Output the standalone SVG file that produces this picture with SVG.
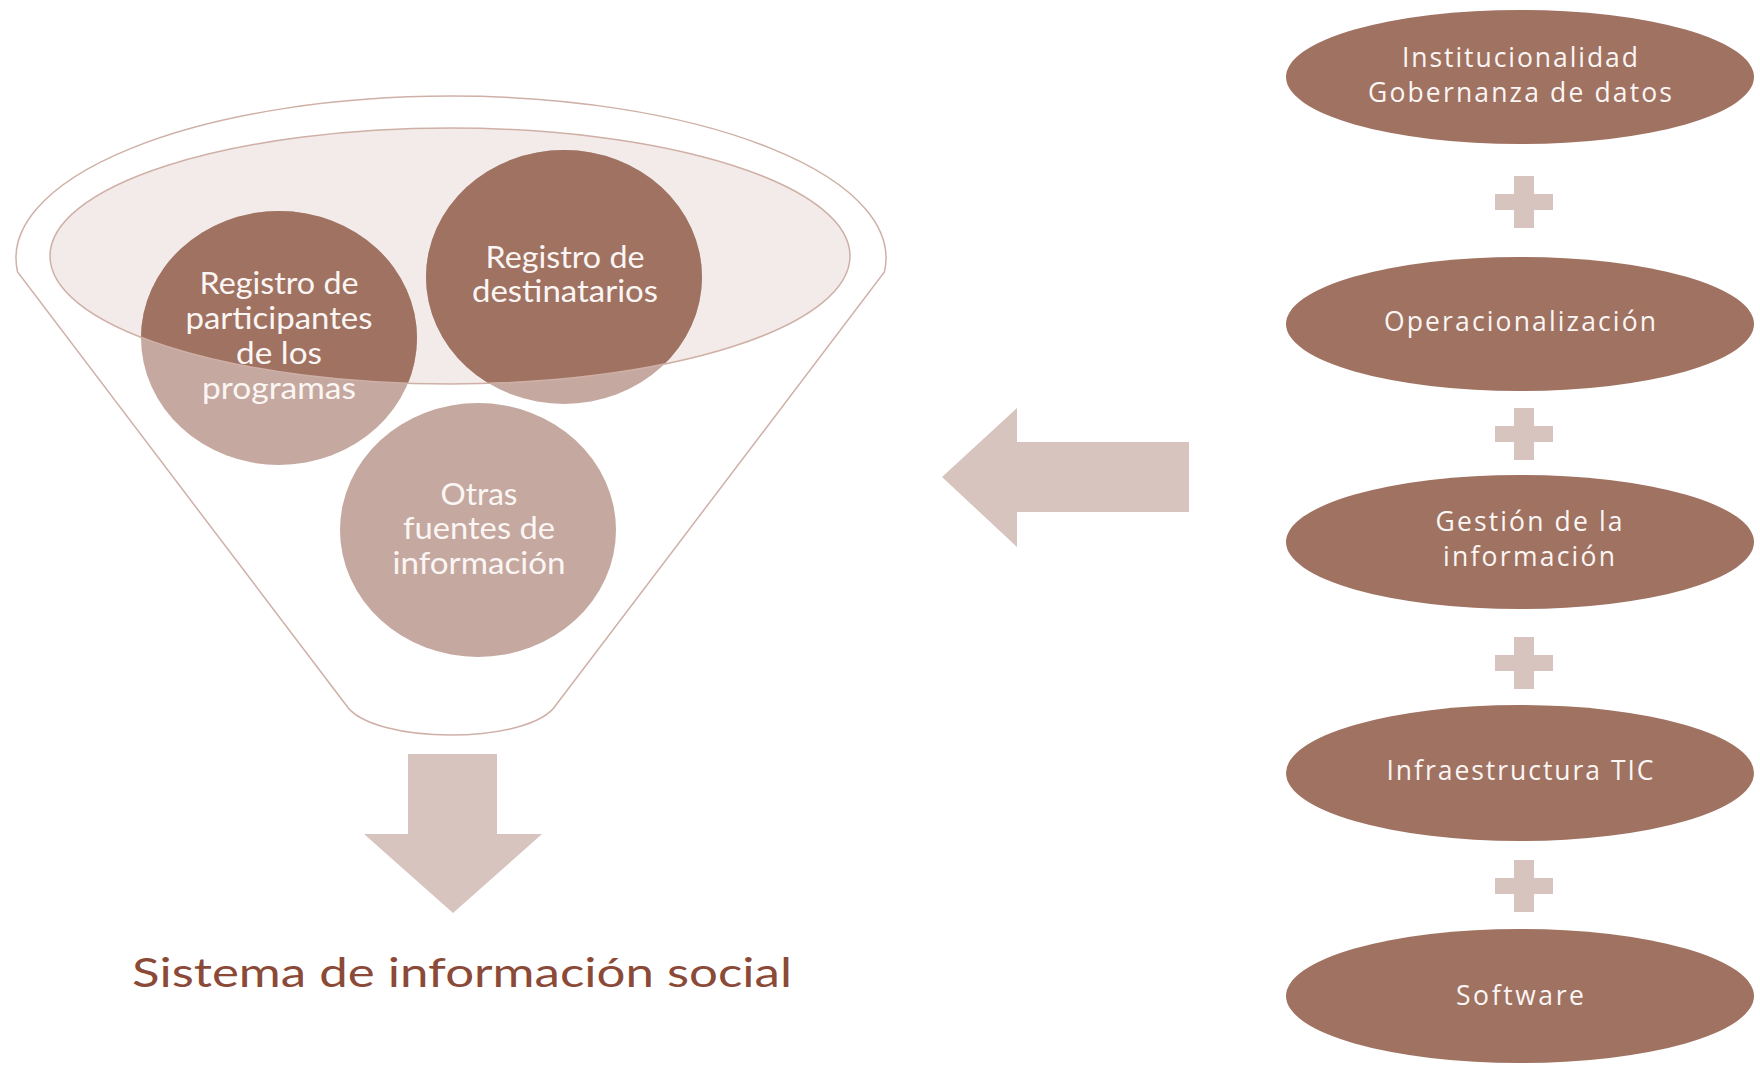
<svg xmlns="http://www.w3.org/2000/svg" width="1760" height="1065" viewBox="0 0 1760 1065">
<style>
.dark{fill:#a07262}
.light{fill:#c5a89f}
.pale{fill:#d8c4be}
.ctext{font-family:Lato,"Open Sans",sans-serif;font-size:30px;fill:#fbf6f4;text-anchor:middle}
.etext{font-family:"Open Sans",sans-serif;font-size:26.5px;fill:#fbf6f4;text-anchor:middle}
.title{font-family:Lato,"Open Sans",sans-serif;font-size:41px;fill:#8b4a38;text-anchor:middle}
.outline{fill:none;stroke:#cfb0a7;stroke-width:1.5}
</style>
<defs>
<clipPath id="rim"><ellipse cx="450" cy="256" rx="400" ry="128"/></clipPath>
<path id="plus" d="M-10,-26 H10 V-8 H29 V8 H10 V26 H-10 V8 H-29 V-8 H-10 Z"/>
</defs>

<g id="funnel">
<path class="outline" d="M17.6,272 A435,162 0 1 1 884.4,272 L556,705 C530,745 372,745 346,705 Z" fill="#ffffff"/>
<ellipse cx="450" cy="256" rx="400" ry="128" fill="#f3ebe9"/>
</g>

<g id="node-participantes">
<ellipse class="light" cx="279" cy="338" rx="138" ry="127"/>
<ellipse class="dark" cx="279" cy="338" rx="138" ry="127" clip-path="url(#rim)"/>
</g>
<g id="node-destinatarios">
<ellipse class="light" cx="564" cy="277" rx="138" ry="127"/>
<ellipse class="dark" cx="564" cy="277" rx="138" ry="127" clip-path="url(#rim)"/>
</g>
<g id="node-otras">
<ellipse class="light" cx="478" cy="530" rx="138" ry="127"/>
</g>

<ellipse id="rim-line" class="outline" cx="450" cy="256" rx="400" ry="128"/>

<g id="labels-left">
<text class="ctext" x="279" y="294" textLength="159" lengthAdjust="spacingAndGlyphs">Registro de</text>
<text class="ctext" x="279" y="329" textLength="187" lengthAdjust="spacingAndGlyphs">participantes</text>
<text class="ctext" x="279" y="364" textLength="86" lengthAdjust="spacingAndGlyphs">de los</text>
<text class="ctext" x="279" y="399" textLength="154" lengthAdjust="spacingAndGlyphs">programas</text>
<text class="ctext" x="565" y="268" textLength="159" lengthAdjust="spacingAndGlyphs">Registro de</text>
<text class="ctext" x="565" y="302" textLength="186" lengthAdjust="spacingAndGlyphs">destinatarios</text>
<text class="ctext" x="479" y="505" textLength="77" lengthAdjust="spacingAndGlyphs">Otras</text>
<text class="ctext" x="479" y="539" textLength="152" lengthAdjust="spacingAndGlyphs">fuentes de</text>
<text class="ctext" x="479" y="574" textLength="173" lengthAdjust="spacingAndGlyphs">información</text>
</g>

<g id="connectors">
<polygon class="pale" points="942,477 1017,408 1017,442 1189,442 1189,512 1017,512 1017,547"/>
<polygon class="pale" points="408,754 497,754 497,834 542,834 453,913 364,834 408,834"/>
<use href="#plus" class="pale" x="1524" y="202"/>
<use href="#plus" class="pale" x="1524" y="434"/>
<use href="#plus" class="pale" x="1524" y="663"/>
<use href="#plus" class="pale" x="1524" y="886"/>
</g>

<text id="title" class="title" x="462" y="987" textLength="660" lengthAdjust="spacingAndGlyphs">Sistema de información social</text>

<g id="node-institucionalidad">
<ellipse class="dark" cx="1520" cy="77" rx="234" ry="67"/>
<text class="etext" x="1520" y="67" textLength="236" lengthAdjust="spacing">Institucionalidad</text>
<text class="etext" x="1520" y="102" textLength="304" lengthAdjust="spacing">Gobernanza de datos</text>
</g>
<g id="node-operacionalizacion">
<ellipse class="dark" cx="1520" cy="324" rx="234" ry="67"/>
<text class="etext" x="1520" y="331" textLength="272" lengthAdjust="spacing">Operacionalización</text>
</g>
<g id="node-gestion">
<ellipse class="dark" cx="1520" cy="542" rx="234" ry="67"/>
<text class="etext" x="1529" y="531" textLength="187" lengthAdjust="spacing">Gestión de la</text>
<text class="etext" x="1529" y="566" textLength="172" lengthAdjust="spacing">información</text>
</g>
<g id="node-infraestructura">
<ellipse class="dark" cx="1520" cy="773" rx="234" ry="68"/>
<text class="etext" x="1520" y="780" textLength="267" lengthAdjust="spacing">Infraestructura TIC</text>
</g>
<g id="node-software">
<ellipse class="dark" cx="1520" cy="996" rx="234" ry="67"/>
<text class="etext" x="1520" y="1005" textLength="128" lengthAdjust="spacing">Software</text>
</g>
</svg>
